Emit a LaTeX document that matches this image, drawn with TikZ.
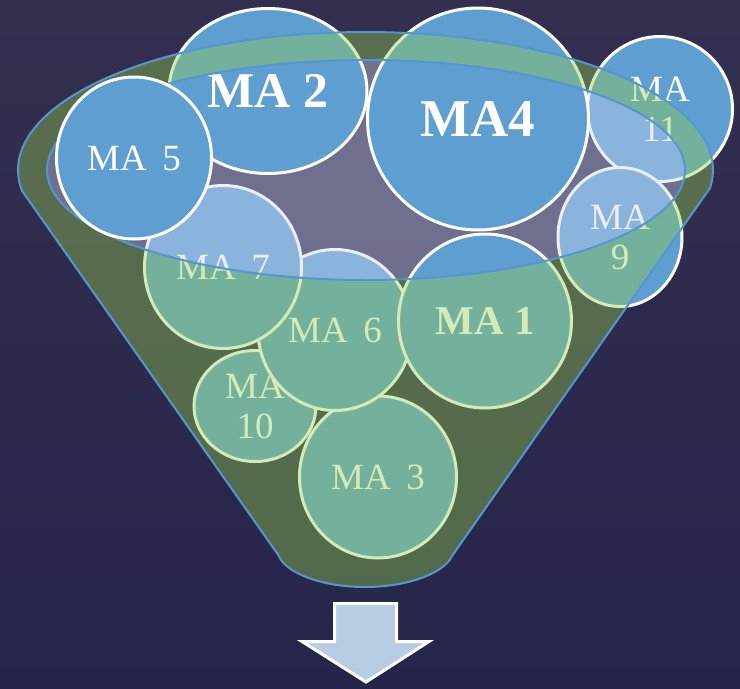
\documentclass[tikz,border=0pt]{standalone}
\usepackage{fontspec}
\setmainfont{Liberation Serif}
\usetikzlibrary{shapes.geometric}
\definecolor{bgtop}{RGB}{52,47,79}
\definecolor{bgbot}{RGB}{37,37,74}
\definecolor{circ}{RGB}{95,158,209}
\definecolor{limeov}{RGB}{148,207,77}
\definecolor{openov}{RGB}{207,214,238}
\definecolor{rimblue}{RGB}{86,150,208}
\definecolor{arrowfill}{RGB}{184,204,228}
\newcommand\magap{\hspace{0.42em}}
\begin{document}
\begin{tikzpicture}[x=1pt,y=-1pt,
  ma/.style={ellipse, draw=white, line width=3pt, fill=circ, text=white, inner sep=0pt},
  reg/.style={font=\fontsize{37}{40}\selectfont, align=center},
  bold/.style={font=\fontsize{#1}{#1}\selectfont\bfseries},
  rim/.style={draw=rimblue, line width=2pt},
  downarrow/.style={fill=arrowfill, draw=white, line width=3pt, line join=miter}]
% background
\shade[top color=bgtop, bottom color=bgbot] (0,0) rectangle (740,689);
\useasboundingbox (0,0) rectangle (740,689);
% circles behind the funnel opening
\node[ma, reg, minimum width=122pt, minimum height=111pt] (ma10) at (255,406) {MA\\10};
\node[ma, reg, minimum width=157pt, minimum height=162pt] (ma3) at (378,477) {MA\magap3};
\node[ma, reg, minimum width=154pt, minimum height=161pt] (ma6) at (335,330) {MA\magap6};
\node[ma, reg, minimum width=157pt, minimum height=163pt] (ma7) at (223,267) {MA\magap7};
\node[ma, reg, minimum width=145pt, minimum height=145pt] (ma11) at (660,109) {MA\\11};
\node[ma, reg, minimum width=124pt, minimum height=139pt] (ma9) at (620,237) {MA\\9};
% funnel opening
\fill[openov, fill opacity=0.4] (366,170) ellipse [x radius=319pt, y radius=110pt];
% circles above the opening
\node[ma, bold=50, minimum width=198pt, minimum height=165pt] (ma2) at (268,91) {MA 2};
\node[ma, bold=53, minimum width=221pt, minimum height=222pt] (ma4) at (478,119) {MA4};
\node[ma, bold=41, minimum width=173pt, minimum height=174pt] (ma1) at (485,321) {MA 1};
% funnel body with rim
\path[fill=limeov, fill opacity=0.4, rim, even odd rule]
  plot[domain=171.3:367.5, samples=90] ({365.5+347.5*cos(\x)},{170+138*sin(\x)})
  -- (452,556) .. controls (445,572) and (410,587) .. (365,587)
  .. controls (320,587) and (285,572) .. (279,556) -- cycle
  (366,170) ellipse [x radius=319pt, y radius=110pt];
% circle on top
\node[ma, reg, minimum width=155pt, minimum height=162pt] (ma5) at (134,158) {MA\magap5};
% arrow
\draw[downarrow] (334.5,603.5) -- (396.5,603.5) -- (396.5,641.5) -- (429,641.5)
  -- (366,682) -- (302,641.5) -- (334.5,641.5) -- cycle;
\end{tikzpicture}
\end{document}
